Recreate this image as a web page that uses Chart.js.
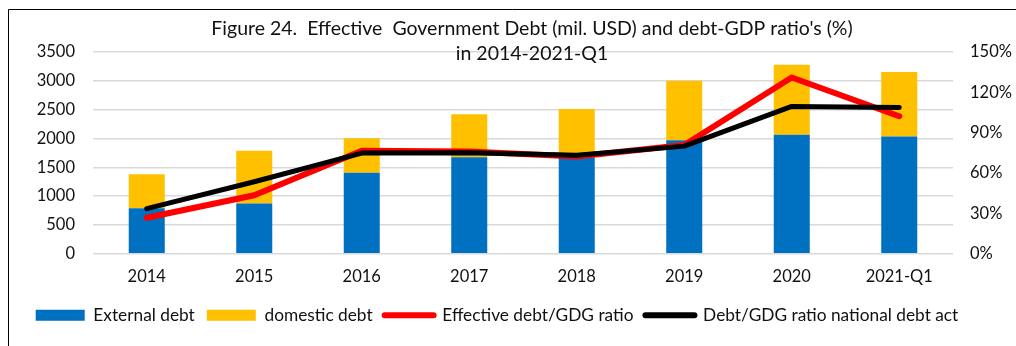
<!DOCTYPE html>
<html>
<head>
<meta charset="utf-8">
<script src="https://cdn.jsdelivr.net/npm/chart.js@4/dist/chart.umd.min.js"></script>
<style>
  html, body { margin: 0; padding: 0; background: #ffffff; }
  #wrap { position: relative; width: 1016px; height: 346px; }
</style>
</head>
<body>
<div id="wrap"><canvas id="chart" width="1016" height="346"></canvas></div>
<script>
// Categories and series (debt in mil. USD, ratios in %)
const categories = ['2014', '2015', '2016', '2017', '2018', '2019', '2020', '2021-Q1'];
const externalDebt = [790, 870, 1405, 1675, 1665, 1970, 2065, 2035];
const domesticDebt = [590, 915, 600, 745, 845, 1030, 1215, 1120];
const effectiveRatio = [26.7, 43.5, 76.5, 76.0, 72.3, 80.8, 131.0, 102.2];
const nationalRatio = [33.5, 53.5, 74.8, 75.0, 73.3, 80.0, 109.5, 108.8];

const titleLines = [
  "Figure 24.  Effective  Government Debt (mil. USD) and debt-GDP ratio's (%)",
  'in 2014-2021-Q1'
];
const seriesNames = ['External debt', 'domestic debt', 'Effective debt/GDG ratio', 'Debt/GDG ratio national debt act'];

const FONT = 'Lato, "Open Sans", sans-serif';
const TEXT = '#111111';

// Frame and two-line title laid over the top of the plot
const decor = {
  id: 'decor',
  afterLayout(chart) {
    // nudge the legend row slightly to the left of the canvas centre
    const lg = chart.legend;
    if (lg) { lg.left -= 11; lg.right -= 11; }
  },
  afterDraw(chart) {
    const ctx = chart.ctx;
    ctx.save();
    ctx.strokeStyle = '#000000';
    ctx.lineWidth = 1;
    ctx.beginPath();
    ctx.moveTo(8.5, 350);
    ctx.lineTo(8.5, 9.5);
    ctx.lineTo(1020, 9.5);
    ctx.stroke();
    ctx.fillStyle = TEXT;
    ctx.font = '19.5px ' + FONT;
    ctx.textAlign = 'center';
    ctx.textBaseline = 'middle';
    ctx.fillText(titleLines[0], 532, 29);
    ctx.fillText(titleLines[1], 532, 54);
    ctx.restore();
  }
};

const ctx = document.getElementById('chart').getContext('2d');
new Chart(ctx, {
  data: {
    labels: categories,
    datasets: [
      {
        type: 'line', label: seriesNames[3], data: nationalRatio, yAxisID: 'y1',
        borderColor: '#000000', backgroundColor: '#000000', borderWidth: 5,
        pointRadius: 0, tension: 0, borderCapStyle: 'round', borderJoinStyle: 'round', order: 0
      },
      {
        type: 'line', label: seriesNames[2], data: effectiveRatio, yAxisID: 'y1',
        borderColor: '#ff0000', backgroundColor: '#ff0000', borderWidth: 6,
        pointRadius: 0, tension: 0, borderCapStyle: 'round', borderJoinStyle: 'round', order: 1
      },
      {
        type: 'bar', label: seriesNames[0], data: externalDebt, yAxisID: 'y',
        backgroundColor: '#0070c0', stack: 'debt', order: 2,
        categoryPercentage: 1, barPercentage: 0.335
      },
      {
        type: 'bar', label: seriesNames[1], data: domesticDebt, yAxisID: 'y',
        backgroundColor: '#ffc000', stack: 'debt', order: 2,
        categoryPercentage: 1, barPercentage: 0.335
      }
    ]
  },
  options: {
    responsive: false,
    animation: false,
    layout: { padding: { top: 52, left: 0, right: 0, bottom: 12 } },
    plugins: {
      title: { display: false },
      tooltip: { enabled: false },
      legend: {
        position: 'bottom',
        labels: {
          color: TEXT,
          font: { family: FONT, size: 17.3 },
          usePointStyle: true,
          pointStyleWidth: 49,
          boxHeight: 11,
          padding: 12,
          generateLabels(chart) {
            const ds = chart.data.datasets;
            const order = [2, 3, 1, 0];
            return order.map(i => {
              const d = ds[i];
              const isLine = d.type === 'line';
              return {
                text: d.label,
                datasetIndex: i,
                pointStyle: isLine ? 'line' : 'rect',
                fillStyle: isLine ? d.borderColor : d.backgroundColor,
                strokeStyle: isLine ? d.borderColor : d.backgroundColor,
                lineWidth: isLine ? 6 : 0,
                lineCap: 'round',
                fontColor: TEXT,
                hidden: false
              };
            });
          }
        }
      }
    },
    scales: {
      x: {
        stacked: true,
        grid: { display: false },
        border: { display: false },
        ticks: { color: TEXT, font: { family: FONT, size: 16.5 }, padding: 5, maxRotation: 0 },
        afterFit(scale) { scale.height = 41; }
      },
      y: {
        position: 'left',
        stacked: true,
        min: 0, max: 3500,
        grid: { color: '#d9d9d9', lineWidth: 1.5, drawTicks: false },
        border: { display: false },
        ticks: { stepSize: 500, color: TEXT, font: { family: FONT, size: 16.5 }, padding: 18,
                 callback: v => String(v) },
        afterFit(scale) { scale.width = 93; }
      },
      y1: {
        position: 'right',
        min: 0, max: 150,
        grid: { display: false, drawTicks: false },
        border: { display: false },
        ticks: { stepSize: 30, color: TEXT, font: { family: FONT, size: 16.5 }, padding: 17,
                 callback: v => v + '%' },
        afterFit(scale) { scale.width = 63; }
      }
    }
  },
  plugins: [decor]
});
</script>
</body>
</html>
